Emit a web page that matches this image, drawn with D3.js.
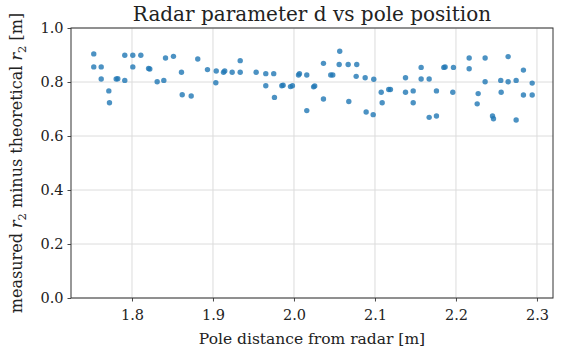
<!DOCTYPE html>
<html>
<head>
<meta charset="utf-8">
<script src="https://cdn.jsdelivr.net/npm/d3@7"></script>
<style>
  body { margin: 0; background: #fff; }
</style>
</head>
<body>
<div id="scatter"></div>
<script>
var serif = "DejaVu Serif";

// pole distance from radar [m]
var poleDistance = [
  1.7528, 1.7528, 1.762, 1.762, 1.7714, 1.7722, 1.7805, 1.7825, 1.7911, 1.7911,
  1.801, 1.801, 1.8109, 1.8205, 1.822, 1.8311, 1.8393, 1.8414, 1.8512, 1.8611,
  1.862, 1.8731, 1.8812, 1.8932, 1.904, 1.9035, 1.913, 1.9145, 1.9237, 1.9336,
  1.9336, 1.9533, 1.9652, 1.9652, 1.975, 1.9759, 1.985, 1.9866, 1.9957, 1.9981,
  2.0056, 2.0068, 2.0158, 2.0158, 2.0242, 2.0256, 2.0364, 2.0364, 2.0454, 2.0479,
  2.0565, 2.0558, 2.0669, 2.0677, 2.0775, 2.0768, 2.0879, 2.0891, 2.0985, 2.0978,
  2.1077, 2.1089, 2.117, 2.1191, 2.1377, 2.1377, 2.1472, 2.1472, 2.157, 2.157,
  2.1669, 2.1669, 2.1759, 2.1759, 2.185, 2.1866, 2.1969, 2.1961, 2.2163, 2.2163,
  2.2274, 2.2262, 2.236, 2.236, 2.2451, 2.2463, 2.2558, 2.2553, 2.2644, 2.2644,
  2.2743, 2.2743, 2.2833, 2.2833, 2.2941, 2.2941
];

// measured r2 minus theoretical r2 [m]
var offsetD = [
  0.904, 0.856, 0.856, 0.811, 0.767, 0.723, 0.811, 0.812, 0.806, 0.899,
  0.899, 0.856, 0.899, 0.850, 0.848, 0.801, 0.806, 0.889, 0.895, 0.836,
  0.753, 0.748, 0.885, 0.846, 0.841, 0.797, 0.836, 0.841, 0.836, 0.879,
  0.836, 0.836, 0.831, 0.786, 0.831, 0.743, 0.786, 0.788, 0.783, 0.786,
  0.826, 0.831, 0.826, 0.694, 0.782, 0.785, 0.869, 0.737, 0.826, 0.826,
  0.914, 0.865, 0.865, 0.728, 0.865, 0.821, 0.816, 0.689, 0.810, 0.679,
  0.762, 0.723, 0.772, 0.772, 0.816, 0.762, 0.767, 0.723, 0.854, 0.811,
  0.811, 0.669, 0.767, 0.674, 0.854, 0.856, 0.854, 0.762, 0.889, 0.849,
  0.757, 0.719, 0.889, 0.801, 0.674, 0.664, 0.762, 0.806, 0.894, 0.801,
  0.806, 0.659, 0.844, 0.752, 0.796, 0.752
];

var xTicks = [1.8, 1.9, 2.0, 2.1, 2.2, 2.3];
var yTicks = [0.0, 0.2, 0.4, 0.6, 0.8, 1.0];

var svgWidth = 563;
var svgHeight = 356;
var margin = { top: 28, right: 10, bottom: 58, left: 71 };
var width = svgWidth - margin.left - margin.right;
var height = svgHeight - margin.top - margin.bottom;

var data = poleDistance.map(function(d, i) {
  return { x: d, y: offsetD[i] };
});

var svg = d3.select("#scatter")
  .append("svg")
  .attr("width", svgWidth)
  .attr("height", svgHeight);

var chart = svg.append("g")
  .attr("transform", `translate(${margin.left}, ${margin.top})`);

var xScale = d3.scaleLinear()
  .domain([1.7247, 2.3198])
  .range([0, width]);

var yScale = d3.scaleLinear()
  .domain([0, 1])
  .range([height, 0]);

// grid
chart.append("g")
  .selectAll("line")
  .data(xTicks)
  .enter()
  .append("line")
  .attr("x1", d => xScale(d))
  .attr("x2", d => xScale(d))
  .attr("y1", 0)
  .attr("y2", height)
  .attr("stroke", "#dcdcdc")
  .attr("stroke-width", 1);

chart.append("g")
  .selectAll("line")
  .data(yTicks)
  .enter()
  .append("line")
  .attr("x1", 0)
  .attr("x2", width)
  .attr("y1", d => yScale(d))
  .attr("y2", d => yScale(d))
  .attr("stroke", "#dcdcdc")
  .attr("stroke-width", 1);

// points
chart.append("g")
  .selectAll("circle")
  .data(data)
  .enter()
  .append("circle")
  .attr("cx", d => xScale(d.x))
  .attr("cy", d => yScale(d.y))
  .attr("r", 2.7)
  .attr("fill", "#1f77b4")
  .attr("opacity", 0.8);

// axes
var bottomAxis = d3.axisBottom(xScale)
  .tickValues(xTicks)
  .tickFormat(d3.format(".1f"))
  .tickSizeOuter(0)
  .tickSizeInner(3.5)
  .tickPadding(8);

var leftAxis = d3.axisLeft(yScale)
  .tickValues(yTicks)
  .tickFormat(d3.format(".1f"))
  .tickSizeOuter(0)
  .tickSizeInner(3.5)
  .tickPadding(4);

var xAxisG = chart.append("g")
  .attr("transform", `translate(0, ${height})`)
  .call(bottomAxis);

var yAxisG = chart.append("g")
  .call(leftAxis);

[xAxisG, yAxisG].forEach(function(g) {
  g.attr("font-family", serif).attr("font-size", 14.5);
  g.select(".domain").remove();
  g.selectAll(".tick line").attr("stroke", "#333").attr("stroke-width", 0.9);
  g.selectAll(".tick text").attr("fill", "#222");
});

// frame
chart.append("rect")
  .attr("x", 0)
  .attr("y", 0)
  .attr("width", width)
  .attr("height", height)
  .attr("fill", "none")
  .attr("stroke", "#333")
  .attr("stroke-width", 1);

// title
svg.append("text")
  .attr("x", margin.left + width / 2)
  .attr("y", 21)
  .attr("text-anchor", "middle")
  .attr("font-family", serif)
  .attr("font-size", 20)
  .attr("fill", "#222")
  .text("Radar parameter d vs pole position");

// x label
svg.append("text")
  .attr("x", margin.left + width / 2)
  .attr("y", 344)
  .attr("text-anchor", "middle")
  .attr("font-family", serif)
  .attr("font-size", 15.5)
  .attr("fill", "#222")
  .text("Pole distance from radar [m]");

// y label
var yLabel = svg.append("text")
  .attr("transform", `translate(22, ${margin.top + height / 2}) rotate(-90)`)
  .attr("text-anchor", "middle")
  .attr("font-family", serif)
  .attr("font-size", 16)
  .attr("fill", "#222");

yLabel.append("tspan").text("measured ");
yLabel.append("tspan").attr("font-style", "italic").text("r");
yLabel.append("tspan").attr("dy", 4).attr("font-size", 11.5).text("2");
yLabel.append("tspan").attr("dy", -4).text(" minus theoretical ");
yLabel.append("tspan").attr("font-style", "italic").text("r");
yLabel.append("tspan").attr("dy", 4).attr("font-size", 11.5).text("2");
yLabel.append("tspan").attr("dy", -4).text(" [m]");
</script>
</body>
</html>
